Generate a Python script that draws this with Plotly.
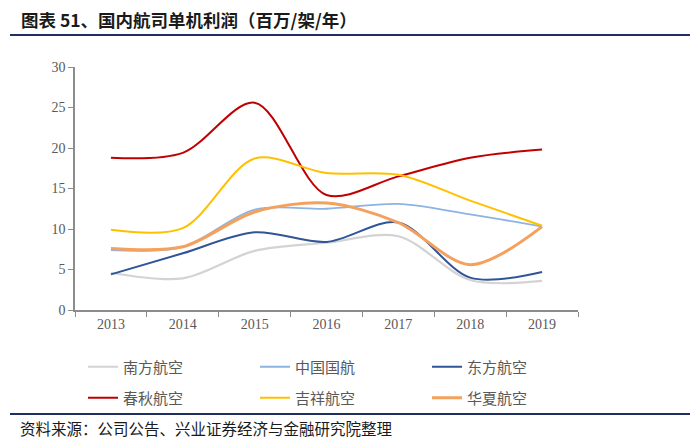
import plotly.graph_objects as go

years = ["2013", "2014", "2015", "2016", "2017", "2018", "2019"]
southern = [4.6, 3.9, 7.3, 8.3, 9.1, 3.7, 3.6]
air_china = [7.4, 7.8, 12.4, 12.5, 13.1, 11.8, 10.3]
eastern = [4.4, 7.0, 9.6, 8.4, 10.8, 4.0, 4.7]
spring = [18.8, 19.4, 25.6, 14.2, 16.5, 18.8, 19.8]
juneyao = [9.9, 10.1, 18.7, 16.9, 16.7, 13.5, 10.4]
huaxia = [7.6, 7.8, 12.1, 13.2, 10.8, 5.6, 10.3]

names = ["南方航空", "中国国航", "东方航空", "春秋航空", "吉祥航空", "华夏航空"]
series = [southern, air_china, eastern, spring, juneyao, huaxia]
colors = ["#d3d3d3", "#8db3e2", "#2f5597", "#c00000", "#ffc000", "#f4a15d"]
widths = [2.2, 1.8, 2, 2, 2, 3]

# page body has an 8px margin; design in reference pixels and shift
OFF = 8
FW, FH = 700 - OFF, 443 - OFF
px0, px1, py0, py1 = 75 - OFF, 578 - OFF, 310 - OFF, 67 - OFF
W, H = px1 - px0, py0 - py1
def X(p): return (p - OFF - px0) / W
def Y(p): return (py0 - (p - OFF)) / H

leg_cols = [83, 255, 427]
leg_rows = [367, 398]
legfont = dict(family="Noto Sans CJK SC", size=15, color="#595959")

fig = go.Figure()
layout_legends = {}
for i, (n, s, c, w) in enumerate(zip(names, series, colors, widths)):
    key = "legend" if i == 0 else f"legend{i + 1}"
    fig.add_trace(go.Scatter(x=years, y=s, name=n, mode="lines",
                             line=dict(color=c, width=w, shape="spline", smoothing=0.9),
                             legend=key))
    layout_legends[key] = dict(orientation="h", x=X(leg_cols[i % 3]), y=Y(leg_rows[i // 3]),
                               xanchor="left", yanchor="middle", font=legfont,
                               bgcolor="rgba(0,0,0,0)")

fig.update_layout(
    width=FW, height=FH,
    margin=dict(l=px0, r=FW - px1, t=py1, b=FH - py0),
    paper_bgcolor="white", plot_bgcolor="white",
    showlegend=True,
    xaxis=dict(type="category", range=[-0.5, 6.5], showgrid=False, zeroline=False,
               showline=True, linecolor="#8c8c8c", linewidth=1.5,
               ticks="outside", tickson="boundaries", ticklen=5, tickcolor="#8c8c8c",
               tickfont=dict(family="Liberation Serif", size=14, color="#595959")),
    yaxis=dict(range=[0, 30], dtick=5, showgrid=False, zeroline=False,
               showline=True, linecolor="#8c8c8c", linewidth=1.5,
               ticks="outside", ticklen=5, tickcolor="#8c8c8c",
               tickfont=dict(family="Liberation Serif", size=14, color="#595959")),
    **layout_legends,
)

fig.add_annotation(text="<b>图表 51、国内航司单机利润（百万/架/年）</b>", xref="paper", yref="paper",
                   x=X(19), y=Y(19.5), xanchor="left", yanchor="middle", showarrow=False,
                   font=dict(family="Noto Sans CJK SC", size=17.5, color="#1a1a1a"))
fig.add_annotation(text="资料来源：公司公告、兴业证券经济与金融研究院整理", xref="paper", yref="paper",
                   x=X(18), y=Y(428), xanchor="left", yanchor="middle", showarrow=False,
                   font=dict(family="Noto Sans CJK SC", size=15.5, color="#1a1a1a"))
for py in (35, 414):
    fig.add_shape(type="line", xref="paper", yref="paper", x0=X(10), x1=X(690), y0=Y(py), y1=Y(py),
                  line=dict(color="#1f2f5f", width=2))

fig.write_html("out.html")
